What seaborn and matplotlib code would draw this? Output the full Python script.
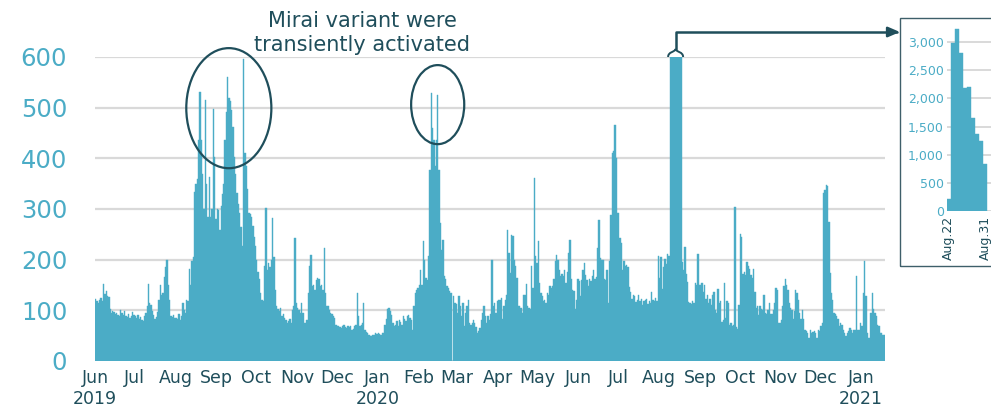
import numpy as np
import pandas as pd
import matplotlib
matplotlib.use("Agg")
import matplotlib.pyplot as plt
import seaborn as sns
from matplotlib.patches import Ellipse, Rectangle, PathPatch
from matplotlib.path import Path
from matplotlib.ticker import FuncFormatter

# daily counts, one list per month
jun19 = [122, 118, 115, 120, 125, 118, 152, 132, 138, 128, 126, 102, 95, 98, 96,
         92, 94, 90, 88, 100, 95, 90, 98, 88, 86, 92, 85, 88, 96, 90]
jul19 = [88, 85, 90, 82, 86, 80, 78, 88, 95, 108, 152, 115, 110, 98, 90, 82,
         86, 96, 120, 150, 130, 135, 165, 185, 200, 150, 120, 88, 86, 90, 84]
aug19 = [85, 82, 92, 80, 88, 115, 100, 95, 120, 118, 182, 150, 198, 205, 334, 350,
         360, 436, 530, 436, 370, 300, 515, 350, 285, 364, 285, 300, 498, 403, 280]
sep19 = [300, 298, 259, 305, 330, 350, 436, 492, 560, 520, 514, 495, 462, 403, 370,
         331, 310, 292, 265, 226, 597, 410, 384, 340, 292, 290, 285, 266, 245, 226]
oct19 = [200, 175, 161, 134, 121, 118, 187, 302, 180, 193, 185, 200, 282, 206, 141,
         108, 102, 98, 105, 88, 92, 85, 80, 75, 78, 82, 75, 100, 108, 243, 115]
nov19 = [105, 100, 95, 115, 95, 75, 75, 80, 134, 187, 210, 148, 150, 141, 160,
         164, 161, 148, 150, 140, 223, 134, 108, 108, 100, 95, 92, 88, 85, 72]
dec19 = [70, 69, 68, 66, 70, 72, 68, 65, 70, 68, 69, 62, 64, 70, 72, 134,
         88, 70, 72, 75, 115, 62, 58, 56, 52, 49, 50, 52, 52, 55, 54]
jan20 = [55, 54, 52, 56, 56, 72, 82, 102, 105, 98, 90, 75, 69, 72, 78, 69,
         80, 76, 72, 88, 82, 78, 88, 90, 84, 80, 62, 108, 135, 141, 144]
feb20 = [150, 180, 150, 236, 200, 164, 160, 207, 377, 528, 459, 436, 384, 436, 525,
         377, 272, 220, 239, 167, 161, 148, 145, 138, 135, 0, 128, 115, 112]
mar20 = [95, 128, 108, 88, 115, 69, 95, 108, 121, 75, 72, 75, 80, 75, 68, 56,
         60, 65, 80, 95, 108, 88, 75, 88, 80, 92, 200, 108, 115, 95, 118]
apr20 = [121, 121, 125, 82, 108, 121, 130, 259, 213, 174, 249, 246, 200, 187, 164,
         108, 108, 105, 95, 131, 131, 151, 108, 105, 102, 187, 144, 361, 207, 193]
may20 = [236, 154, 134, 128, 118, 120, 115, 134, 130, 148, 145, 148, 161, 197, 210,
         200, 180, 167, 172, 167, 180, 154, 175, 213, 239, 161, 141, 138, 102, 121, 161]
jun20 = [158, 128, 160, 180, 193, 170, 160, 148, 161, 158, 167, 180, 161, 165, 223,
         279, 203, 200, 200, 161, 160, 180, 115, 197, 289, 410, 415, 466, 400, 292]
jul20 = [292, 243, 233, 180, 197, 187, 190, 186, 146, 136, 123, 130, 128, 117, 120,
         130, 118, 122, 110, 118, 120, 123, 112, 118, 115, 136, 120, 118, 125, 118, 208]
aug20_head = [163, 205, 143, 186, 202, 192, 212]
aug20_tail = [195, 180, 225, 172, 156, 117, 115, 112, 118, 115, 153, 150, 212, 150]
sep20 = [150, 153, 136, 150, 123, 130, 115, 122, 110, 130, 136, 100, 95, 143, 115,
         118, 77, 80, 153, 84, 118, 115, 71, 75, 70, 72, 304, 68, 64, 110]
oct20 = [251, 245, 172, 175, 170, 195, 188, 182, 170, 163, 182, 136, 104, 108, 90,
         108, 102, 100, 131, 95, 92, 100, 115, 92, 92, 100, 115, 144, 140, 75, 75]
nov20 = [80, 108, 148, 161, 150, 141, 115, 105, 100, 82, 98, 141, 134, 121, 95,
         82, 100, 82, 62, 60, 56, 46, 62, 56, 58, 59, 56, 46, 62, 60]
dec20 = [69, 75, 331, 338, 348, 345, 275, 174, 134, 121, 95, 92, 88, 82, 69, 75,
         72, 62, 56, 49, 56, 59, 66, 62, 56, 62, 62, 167, 62, 62, 75]
jan21 = [69, 134, 197, 128, 56, 46, 46, 95, 134, 102, 95, 88, 72, 69, 56, 56, 52, 52]

# zoomed burst, Aug 22 - Aug 31 2020
inset_labels = ["Aug.22", "", "", "", "", "", "", "", "", "Aug.31"]
inset_values = [208, 2980, 3230, 2815, 2190, 2210, 1655, 1365, 1245, 838]

aug20 = aug20_head + inset_values + aug20_tail

month_labels = ["Jun\n2019", "Jul", "Aug", "Sep", "Oct", "Nov", "Dec",
                "Jan\n2020", "Feb", "Mar", "Apr", "May", "Jun", "Jul", "Aug",
                "Sep", "Oct", "Nov", "Dec", "Jan\n2021"]
month_data = [jun19, jul19, aug19, sep19, oct19, nov19, dec19, jan20, feb20,
              mar20, apr20, may20, jun20, jul20, aug20, sep20, oct20, nov20,
              dec20, jan21]

counts = sum(month_data, [])
month_starts = np.cumsum([0] + [len(m) for m in month_data[:-1]])
df = pd.DataFrame({"day": np.arange(len(counts)), "count": counts})
burst_start = month_starts[14] + len(aug20_head)
df_in = pd.DataFrame({"pos": np.arange(len(inset_values)), "count": inset_values})

BAR = "#4BACC6"
DARK = "#1F4E5B"
GRID = "#D9D9D9"

sns.set_style("white")
plt.rcParams["font.family"] = ["DejaVu Sans"]

W, H = 991, 408
fig = plt.figure(figsize=(W / 100, H / 100), dpi=100)
ax = fig.add_axes([95 / W, (H - 361) / H, 790 / W, 304 / H])

sns.barplot(data=df, x="day", y="count", native_scale=True, width=1,
            color=BAR, saturation=1, edgecolor=BAR, linewidth=0.3,
            errorbar=None, ax=ax)
ax.set_xlim(-0.5, len(counts) - 0.5)
ax.set_ylim(0, 600)
ax.set_xlabel("")
ax.set_ylabel("")
sns.despine(ax=ax, left=True, bottom=True)
ax.set_axisbelow(True)
ax.yaxis.grid(True, color=GRID, lw=1.6)
ax.set_yticks(range(0, 601, 100))
ax.tick_params(axis="y", length=0, pad=20, labelsize=17.5, labelcolor=BAR)
ax.set_xticks(month_starts - 0.5)
ax.set_xticklabels(month_labels)
ax.tick_params(axis="x", length=0, pad=6, labelsize=12.5, labelcolor=DARK)

# ellipses around Mirai peaks
for cx, cy, w, h in [(100.8, 499, 64.4, 237), (258.9, 506, 40.2, 156)]:
    ax.add_patch(Ellipse((cx, cy), w, h, fill=False, edgecolor=DARK,
                         lw=1.6, clip_on=False, zorder=5))

fig.text(362 / W, 1 - 33 / H, "Mirai variant were\ntransiently activated",
         ha="center", va="center", fontsize=15, color=DARK)

# break cap on clipped burst and connector arrow to the inset
xc = burst_start + len(inset_values) / 2
fig.canvas.draw()
px, py = ax.transData.transform((xc, 600))
hw = 7.5
verts = [(-hw, 0), (-hw, 5.5), (-1, 4.5), (0, 8), (1, 4.5), (hw, 5.5), (hw, 0)]
codes = [Path.MOVETO, Path.CURVE4, Path.CURVE4, Path.CURVE4,
         Path.CURVE4, Path.CURVE4, Path.CURVE4]
cap = Path([(px + vx, py + vy) for vx, vy in verts], codes)
fig.add_artist(PathPatch(cap, facecolor="none", edgecolor=DARK, lw=1.4,
                         transform=None))
ax.annotate("", xy=(900 / W, 1 - 32 / H), xycoords="figure fraction",
            xytext=(xc, 600), textcoords="data",
            arrowprops=dict(arrowstyle="-|>,head_length=0.7,head_width=0.3",
                            color=DARK, lw=1.8, shrinkA=5.5, shrinkB=0,
                            connectionstyle="angle,angleA=90,angleB=0,rad=0"),
            annotation_clip=False)

# inset frame and axes
fig.add_artist(Rectangle((899.5 / W, (H - 265.5) / H), 100 / W, 248 / H,
                         transform=fig.transFigure, fill=False,
                         edgecolor="#3E5F6A", lw=1.0))
axi = fig.add_axes([946.7 / W, (H - 210.7) / H, 53.3 / W, 188 / H])
sns.barplot(data=df_in, x="pos", y="count", native_scale=True, width=1,
            color=BAR, saturation=1, edgecolor=BAR, linewidth=0.3,
            errorbar=None, ax=axi)
axi.set_xlim(-0.5, 12.6)
axi.set_ylim(0, 3350)
axi.set_xlabel("")
axi.set_ylabel("")
sns.despine(ax=axi, left=True, bottom=True)
axi.set_axisbelow(True)
axi.yaxis.grid(True, color=GRID, lw=1.4)
axi.set_yticks(range(0, 3001, 500))
axi.yaxis.set_major_formatter(FuncFormatter(lambda v, p: f"{v:,.0f}"))
axi.tick_params(axis="y", length=0, pad=2, labelsize=9, labelcolor=BAR)
ticks = [i for i, t in enumerate(inset_labels) if t]
axi.set_xticks(ticks)
axi.set_xticklabels([inset_labels[i] for i in ticks], rotation=90)
axi.tick_params(axis="x", length=0, pad=4, labelsize=9, labelcolor=DARK)

fig.savefig("out.png", dpi=100)
